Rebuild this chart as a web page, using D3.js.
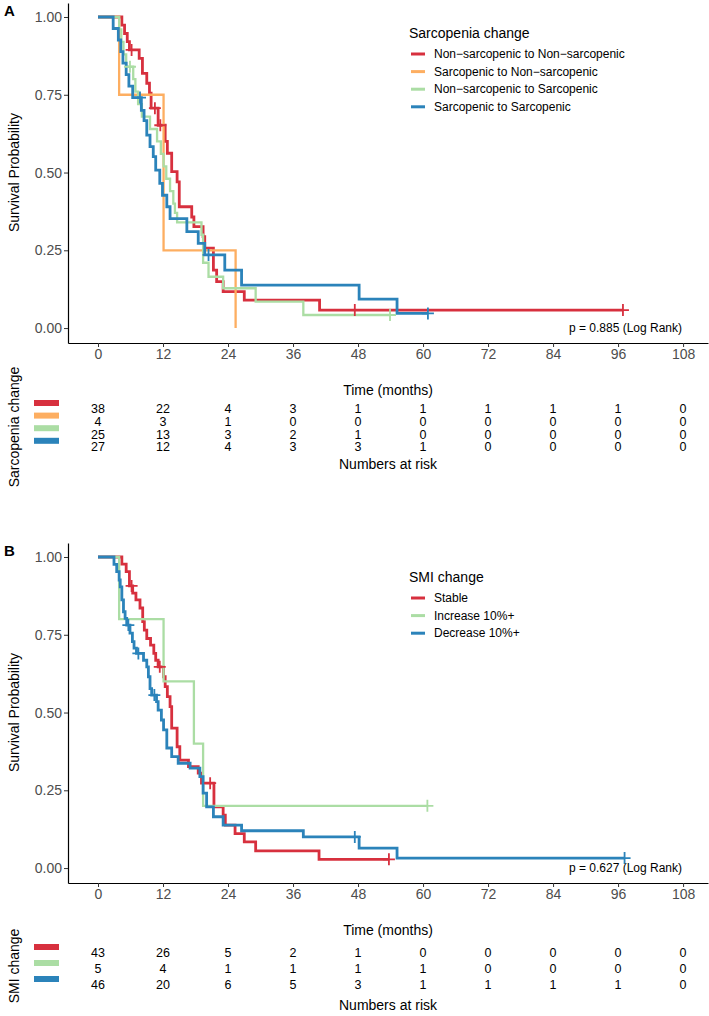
<!DOCTYPE html>
<html>
<head>
<meta charset="utf-8">
<script src="https://cdn.jsdelivr.net/npm/d3@7"></script>
<style>
  body { margin: 0; background: #fff; }
  svg text { font-family: "Liberation Sans", Arial, sans-serif; }
</style>
</head>
<body>
<div id="chart"></div>
<script>
const width = 709
const height = 1016

const timeTicks = [0, 12, 24, 36, 48, 60, 72, 84, 96, 108]
const survTicks = [0, 0.25, 0.5, 0.75, 1]

// panel A: sarcopenia change
const groupsA = ['Non\u2212sarcopenic to Non\u2212sarcopenic', 'Sarcopenic to Non\u2212sarcopenic', 'Non\u2212sarcopenic to Sarcopenic', 'Sarcopenic to Sarcopenic']
const colorsA = ['#d7303e', '#fdae61', '#abdda4', '#2b83ba']
const survA_nn = [[0,1],[4.4,0.974],[4.9,0.947],[5.4,0.921],[5.8,0.894],[7.6,0.867],[8.2,0.819],[9.0,0.787],[9.5,0.755],[9.8,0.707],[11.1,0.652],[12.4,0.600],[12.8,0.562],[13.6,0.503],[14.6,0.470],[15.0,0.390],[17.3,0.357],[17.7,0.326],[19.4,0.294],[19.7,0.257],[21.3,0.186],[21.9,0.149],[23.1,0.117],[27.0,0.090],[40.9,0.058],[96.9,0.058]]
const survA_sn = [[0,1],[3.9,0.75],[12.1,0.25],[25.4,0]]
const survA_ns = [[0,1],[3.9,0.96],[4.3,0.92],[4.7,0.88],[5.2,0.84],[6.5,0.80],[6.9,0.76],[7.4,0.72],[8.1,0.68],[9.6,0.64],[10.9,0.60],[11.6,0.56],[12.1,0.52],[12.6,0.48],[13.3,0.44],[13.9,0.40],[14.2,0.37],[14.6,0.34],[19.1,0.30],[19.4,0.21],[20.4,0.165],[23.1,0.128],[29.1,0.085],[37.9,0.042],[53.9,0.042]]
const survA_ss = [[0,1],[2.8,0.963],[3.75,0.926],[4.2,0.889],[4.6,0.852],[5.2,0.815],[5.7,0.778],[6.4,0.741],[8.0,0.70],[8.5,0.667],[9.0,0.62],[9.6,0.583],[10.2,0.551],[10.65,0.508],[11.4,0.465],[11.9,0.427],[12.7,0.390],[13.3,0.352],[16.4,0.31],[18.5,0.272],[19.7,0.235],[23.4,0.186],[26.5,0.138],[48.2,0.093],[55.2,0.047],[60.9,0.047]]
const censA_nn = [6.2, 10.5, 11.5, 47.4, 96.9]
const censA_sn = []
const censA_ns = [5.9, 53.9]
const censA_ss = [7.75, 20.4, 60.9]
const riskA_nn = [38, 22, 4, 3, 1, 1, 1, 1, 1, 0]
const riskA_sn = [4, 3, 1, 0, 0, 0, 0, 0, 0, 0]
const riskA_ns = [25, 13, 3, 2, 1, 0, 0, 0, 0, 0]
const riskA_ss = [27, 12, 4, 3, 3, 1, 0, 0, 0, 0]

// panel B: SMI change
const groupsB = ['Stable', 'Increase 10%+', 'Decrease 10%+']
const colorsB = ['#d7303e', '#abdda4', '#2b83ba']
const survB_st = [[0,1],[4.4,0.977],[5.2,0.953],[5.8,0.907],[6.4,0.884],[7.0,0.862],[7.75,0.836],[8.25,0.792],[8.55,0.765],[9.0,0.738],[9.7,0.717],[10.3,0.690],[10.65,0.668],[11.1,0.647],[12.1,0.615],[12.4,0.583],[12.8,0.551],[13.3,0.519],[13.6,0.45],[14.6,0.39],[15.1,0.347],[16.7,0.326],[18.5,0.305],[19.1,0.273],[21.4,0.197],[23.1,0.170],[23.5,0.138],[25.3,0.111],[27.0,0.084],[29.1,0.055],[40.8,0.028],[53.7,0.028]]
const survB_in = [[0,1],[3.9,0.8],[12.1,0.6],[17.7,0.4],[19.4,0.2],[60.8,0.2]]
const survB_de = [[0,1],[2.95,0.976],[3.45,0.953],[3.9,0.926],[4.1,0.904],[4.4,0.862],[4.7,0.824],[5.0,0.803],[5.3,0.781],[5.9,0.755],[6.35,0.728],[6.65,0.707],[7.1,0.690],[8.4,0.668],[9.0,0.647],[9.3,0.615],[9.6,0.577],[9.9,0.556],[10.8,0.535],[11.1,0.508],[11.7,0.476],[12.1,0.444],[12.7,0.386],[13.6,0.358],[14.8,0.337],[17.0,0.321],[18.8,0.294],[19.4,0.241],[20.05,0.197],[21.3,0.165],[23.1,0.138],[26.5,0.12],[37.9,0.10],[48.2,0.064],[55.2,0.032],[97.2,0.032]]
const censB_st = [6.2, 11.4, 20.7, 53.7]
const censB_in = [60.8]
const censB_de = [5.6, 7.45, 10.4, 47.4, 97.2]
const riskB_st = [43, 26, 5, 2, 1, 0, 0, 0, 0, 0]
const riskB_in = [5, 4, 1, 1, 1, 1, 0, 0, 0, 0]
const riskB_de = [46, 20, 6, 5, 3, 1, 1, 1, 1, 0]

const svg = d3.select('#chart').append('svg').attr('width', width).attr('height', height)

const x = d3.scaleLinear().domain([-5.54, 112.6]).range([68, 708])

function survAt(curve, t) {
  let s = 1
  curve.forEach(d => { if (d[0] <= t) s = d[1] })
  return s
}

function drawPanel(p) {
  const g = svg.append('g').attr('transform', `translate(0, ${p.top})`)
  const y = d3.scaleLinear().domain([-0.048, 1.045]).range([340, 0])

  // curves
  const line = d3.line().x(d => x(d[0])).y(d => y(d[1])).curve(d3.curveStepAfter)
  p.curves.forEach((c, i) => {
    g.append('path')
      .attr('d', line(c))
      .attr('fill', 'none')
      .attr('stroke', p.colors[i])
      .attr('stroke-width', p.widths[i])
  })
  // censor marks
  p.censors.forEach((cs, i) => {
    cs.forEach(t => {
      const cx = x(t), cy = y(survAt(p.curves[i], t))
      g.append('path')
        .attr('d', `M${cx - 6},${cy}H${cx + 6}M${cx},${cy - 6}V${cy + 6}`)
        .attr('stroke', p.colors[i])
        .attr('stroke-width', 1.8)
    })
  })

  // axes
  const xAxis = d3.axisBottom(x).tickValues(timeTicks).tickSize(4).tickSizeOuter(0).tickPadding(2)
  const yAxis = d3.axisLeft(y).tickValues(survTicks).tickSize(4).tickSizeOuter(0).tickPadding(2).tickFormat(d3.format('.2f'))
  const xg = g.append('g').attr('transform', 'translate(0, 340)').call(xAxis)
  const yg = g.append('g').attr('transform', 'translate(68, 0)').call(yAxis)
  ;[xg, yg].forEach(a => {
    a.select('.domain').attr('stroke', '#000').attr('stroke-width', 1.2)
    a.selectAll('.tick line').attr('stroke', '#333')
    a.selectAll('.tick text').attr('fill', '#4d4d4d').style('font-size', '14px')
  })

  // panel tag + axis titles
  g.append('text').attr('x', 4).attr('y', 8).attr('dy', '0.35em')
    .style('font-size', '15px').style('font-weight', 'bold').text(p.tag)
  g.append('text').attr('transform', `translate(14, ${y(0.5)}) rotate(-90)`)
    .attr('text-anchor', 'middle').attr('dy', '0.35em').style('font-size', '14px').text('Survival Probability')
  g.append('text').attr('x', 682).attr('y', y(0)).attr('dy', '0.35em').attr('text-anchor', 'end')
    .style('font-size', '12px').text(p.pText)

  // legend
  const lg = g.append('g').attr('transform', `translate(409, ${p.legendY})`)
  lg.append('text').attr('y', 0).attr('dy', '0.35em').style('font-size', '14px').text(p.title)
  p.groups.forEach((name, i) => {
    const ly = 21 + i * 17.6
    lg.append('line').attr('x1', 2).attr('x2', 16).attr('y1', ly).attr('y2', ly)
      .attr('stroke', p.colors[i]).attr('stroke-width', 3)
    lg.append('text').attr('x', 25).attr('y', ly).attr('dy', '0.35em').style('font-size', '12px').text(name)
  })

  // risk table
  g.append('text').attr('x', 388).attr('y', 387).attr('dy', '0.35em').attr('text-anchor', 'middle')
    .style('font-size', '14px').text('Time (months)')
  p.risk.forEach((row, i) => {
    const ry = p.rowStart + i * p.rowStep
    g.append('rect').attr('x', 34).attr('y', ry - 9).attr('width', 25).attr('height', 6)
      .attr('fill', p.colors[i])
    row.forEach((n, j) => {
      g.append('text').attr('x', x(timeTicks[j])).attr('y', ry).attr('dy', '0.35em')
        .attr('text-anchor', 'middle').style('font-size', '12.5px').text(n)
    })
  })
  g.append('text').attr('x', 388).attr('y', p.footY).attr('dy', '0.35em').attr('text-anchor', 'middle')
    .style('font-size', '14px').text('Numbers at risk')
  g.append('text').attr('transform', `translate(14, ${p.labelY}) rotate(-90)`)
    .attr('text-anchor', 'middle').attr('dy', '0.35em').style('font-size', '14px').text(p.title)
}

drawPanel({
  top: 3, tag: 'A', title: 'Sarcopenia change', pText: 'p = 0.885 (Log Rank)',
  groups: groupsA, colors: colorsA, widths: [2.8, 2.3, 2.3, 2.8],
  curves: [survA_nn, survA_sn, survA_ns, survA_ss],
  censors: [censA_nn, censA_sn, censA_ns, censA_ss],
  risk: [riskA_nn, riskA_sn, riskA_ns, riskA_ss],
  legendY: 30, rowStart: 406, rowStep: 12.6, footY: 461, labelY: 424,
})

drawPanel({
  top: 543, tag: 'B', title: 'SMI change', pText: 'p = 0.627 (Log Rank)',
  groups: groupsB, colors: colorsB, widths: [2.8, 2.3, 2.8],
  curves: [survB_st, survB_in, survB_de],
  censors: [censB_st, censB_in, censB_de],
  risk: [riskB_st, riskB_in, riskB_de],
  legendY: 34, rowStart: 410, rowStep: 16, footY: 462, labelY: 423,
})
</script>
</body>
</html>
